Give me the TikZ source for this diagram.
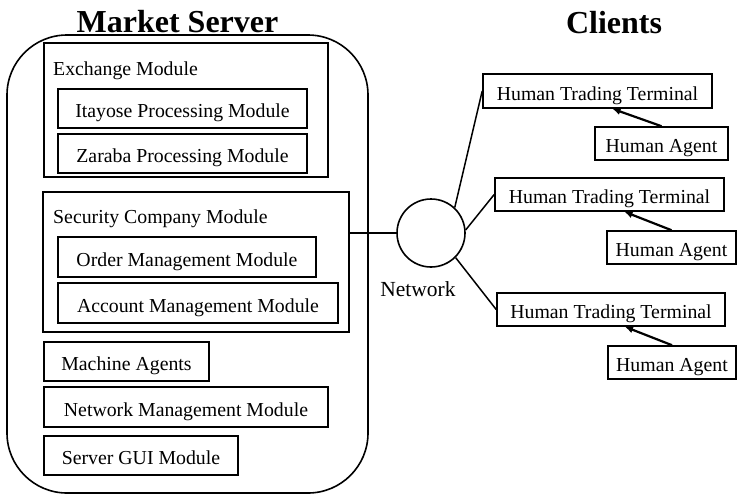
\documentclass[tikz,border=0pt]{standalone}
\usepackage{fontspec}
\setmainfont{Liberation Serif}
\usetikzlibrary{arrows.meta}

\tikzset{
  box/.style={draw, line width=1.6pt, inner sep=0pt, text height=18pt, text depth=0pt,
              font=\fontsize{19.8}{22}\selectfont},
  frame/.style={draw, line width=1.6pt, inner sep=0pt},
  title/.style={font=\bfseries\fontsize{32}{36}\selectfont, inner sep=0pt, anchor=base},
  caption/.style={font=\fontsize{19.8}{22}\selectfont, inner sep=0pt, anchor=base west},
  link/.style={line width=1.5pt},
  arr/.style={line width=2.2pt, -{Latex[length=8pt,width=7pt]}}
}

\begin{document}
\begin{tikzpicture}[x=1pt, y=-1pt]
\useasboundingbox (0,0) rectangle (738,496);

% titles
\node[title] (tserver) at (177.5,32) {Market Server};
\node[title] (tclients) at (614,33) {Clients};

% market server enclosure
\node[frame, rounded corners=60pt, minimum width=361pt, minimum height=458pt] (server) at (187.5,264) {};

% exchange module
\node[frame, minimum width=284pt, minimum height=134pt] (exch) at (186,110) {};
\node[caption] (exchlbl) at (53,75) {Exchange Module};
\node[box, minimum width=249pt, minimum height=39pt] (itayose) at (182.5,108.5) {Itayose Processing Module};
\node[box, minimum width=249pt, minimum height=39pt] (zaraba) at (182.5,153.5) {Zaraba Processing Module};

% security company module
\node[frame, minimum width=306pt, minimum height=140pt] (sec) at (196,262) {};
\node[caption] (seclbl) at (53,223) {Security Company Module};
\node[box, minimum width=258pt, minimum height=40pt] (order) at (187,257) {Order Management Module};
\node[box, minimum width=280pt, minimum height=40pt] (account) at (198,303) {Account Management Module};

% remaining server modules
\node[box, minimum width=165pt, minimum height=39pt] (machine) at (126.5,361.5) {Machine Agents};
\node[box, minimum width=284pt, minimum height=40pt] (netmgmt) at (186,407) {Network Management Module};
\node[box, minimum width=194pt, minimum height=39pt] (gui) at (141,455.5) {Server GUI Module};

% network
\node[draw, circle, line width=1.6pt, minimum size=68pt, inner sep=0pt] (net) at (431,233) {};
\node[font=\fontsize{21.5}{24}\selectfont, inner sep=0pt, anchor=base] (netlbl) at (418,296) {Network};

% clients
\node[box, minimum width=229pt, minimum height=34pt] (t1) at (597.5,91) {Human Trading Terminal};
\node[box, minimum width=133pt, minimum height=33pt] (a1) at (661.5,143.5) {Human Agent};
\node[box, minimum width=229pt, minimum height=33pt] (t2) at (609.5,194.5) {Human Trading Terminal};
\node[box, minimum width=129pt, minimum height=33pt] (a2) at (671.5,247.5) {Human Agent};
\node[box, minimum width=228pt, minimum height=33pt] (t3) at (611,309.5) {Human Trading Terminal};
\node[box, minimum width=128pt, minimum height=33pt] (a3) at (672,362.5) {Human Agent};

% connections
\draw[link] (net.west -| sec.east) -- (net.west);
\draw[link] (net.47) -- (t1.west);
\draw[link] (net.5) -- (t2.west);
\draw[link] (net.-45) -- (t3.west);

\draw[arr] (a1.north) -- ([xshift=15pt]t1.south);
\draw[arr] (a2.north) -- ([xshift=15pt]t2.south);
\draw[arr] (a3.north) -- ([xshift=14pt]t3.south);
\end{tikzpicture}
\end{document}
